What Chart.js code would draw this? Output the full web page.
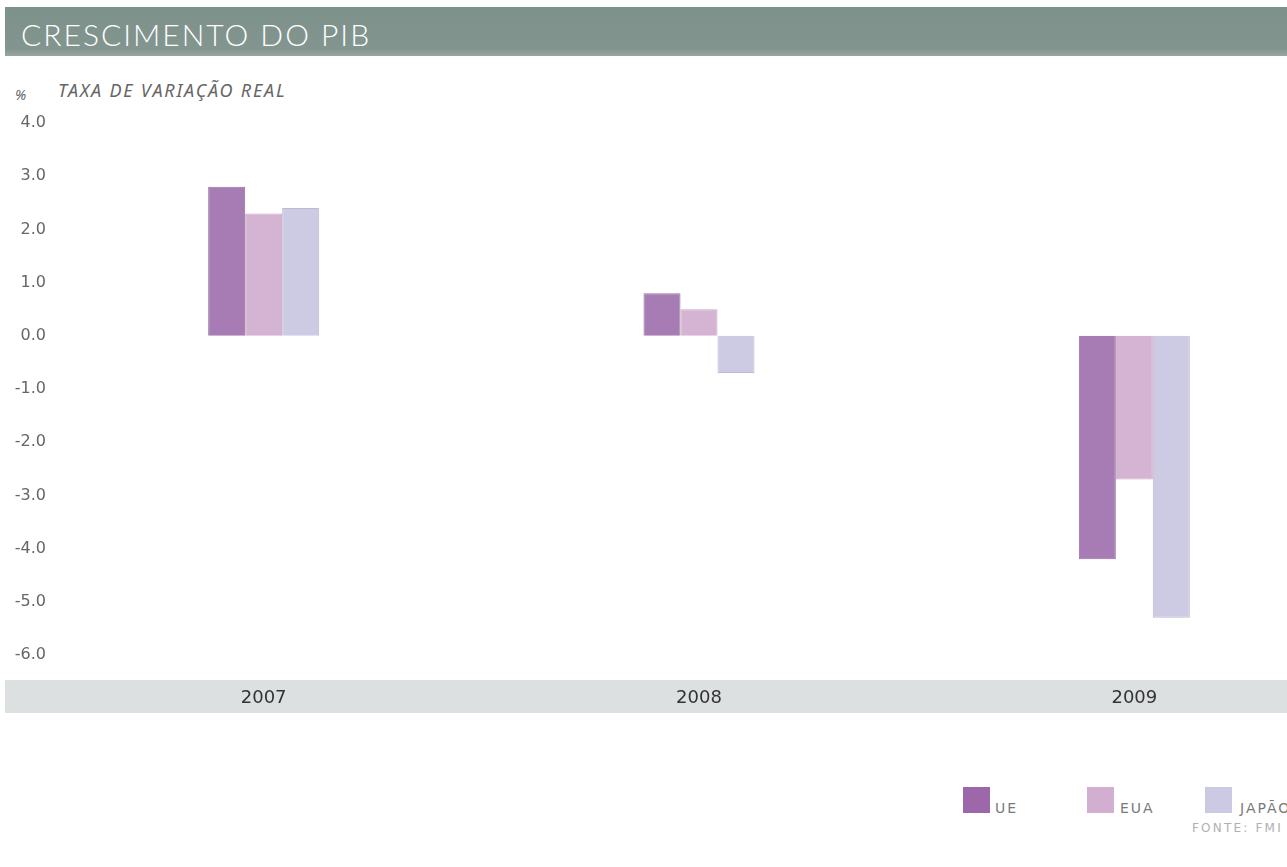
<!DOCTYPE html>
<html lang="pt">
<head>
<meta charset="utf-8">
<title>Crescimento do PIB</title>
<script src="https://cdn.jsdelivr.net/npm/chart.js@4.4.1/dist/chart.umd.min.js"></script>
<style>
  html, body { margin: 0; padding: 0; background: #fff; overflow: hidden; }
  #page { position: relative; width: 1360px; height: 867px; }
  .titlebar {
    position: absolute; left: 5px; top: 7px; width: 1355px; height: 49px;
    background: linear-gradient(#7d928b, #82958e 85%, #97a7a1);
  }
  .titlebar h1 {
    margin: 0; position: absolute; left: 16px; top: 9px;
    font: 300 30px Lato, "Open Sans", sans-serif; color: #fff; letter-spacing: 2px;
  }
  .sub { position: absolute; font-family: "Noto Sans", sans-serif; font-style: italic; color: #666; }
  #chartBox { position: absolute; left: 0; top: 100px; }
  .key { position: absolute; top: 787px; width: 27px; height: 26px; }
  .keytxt { position: absolute; top: 800px; font: 14px "DejaVu Sans", sans-serif; color: #7a7a7a; letter-spacing: 2px; }
  .fonte { position: absolute; left: 1192px; top: 821px; font: 12px "DejaVu Sans", sans-serif; color: #b0b0b0; letter-spacing: 2.2px; }
</style>
</head>
<body>
<div id="page">
  <div class="titlebar"><h1>CRESCIMENTO DO PIB</h1></div>
  <div class="sub" style="left:15px;top:85px;font-size:14px">%</div>
  <div class="sub" style="left:58px;top:78px;font-size:18px;letter-spacing:1.8px">TAXA DE VARIAÇÃO REAL</div>
  <div id="chartBox"><canvas id="pibChart" width="1360" height="630"></canvas></div>

  <div class="key" style="left:963px;background:#9d68aa"></div>
  <div class="keytxt" style="left:995px">UE</div>
  <div class="key" style="left:1087px;background:#d2aed0"></div>
  <div class="keytxt" style="left:1120px">EUA</div>
  <div class="key" style="left:1205px;background:#cccae2"></div>
  <div class="keytxt" style="left:1240px">JAPÃO</div>
  <div class="fonte">FONTE: FMI</div>
</div>

<script>
// anos e taxas de variação real do PIB (%)
const anos = ['2007', '2008', '2009'];
const ue = [2.8, 0.8, -4.2];
const eua = [2.3, 0.5, -2.7];
const japao = [2.4, -0.7, -5.3];
const escalaY = [-6, 4];

// faixa cinzenta por trás dos anos
const faixaAnos = {
  id: 'faixaAnos',
  beforeDraw(chart) {
    const { ctx, chartArea } = chart;
    ctx.save();
    ctx.fillStyle = '#dde0e1';
    ctx.fillRect(5, chartArea.bottom + 25, chart.width, 33);
    ctx.restore();
  }
};

const serie = (label, data, cor, borda) => ({
  label, data,
  backgroundColor: cor,
  borderColor: borda,
  borderWidth: 1,
  categoryPercentage: 0.255,
  barPercentage: 1.0
});

new Chart(document.getElementById('pibChart'), {
  type: 'bar',
  data: {
    labels: anos,
    datasets: [
      serie('UE', ue, '#a77bb3', '#95729e'),
      serie('EUA', eua, '#d5b3d2', '#c7a8c6'),
      serie('JAPÃO', japao, '#cdcbe3', '#bdbbd2')
    ]
  },
  options: {
    responsive: false,
    animation: false,
    devicePixelRatio: 1,
    layout: { padding: { top: 23, right: 8, bottom: 0, left: 0 } },
    plugins: { legend: { display: false }, tooltip: { enabled: false } },
    scales: {
      x: {
        grid: { display: false, drawTicks: false },
        border: { display: false },
        ticks: { padding: 33, color: '#333', font: { family: 'DejaVu Sans', size: 18 } },
        afterFit: s => { s.height = 75; }
      },
      y: {
        min: escalaY[0],
        max: escalaY[1],
        grid: { display: false, drawTicks: false },
        border: { display: false },
        ticks: {
          stepSize: 1,
          padding: 0,
          color: '#666',
          font: { family: 'DejaVu Sans', size: 16 },
          callback: v => v.toFixed(1)
        },
        afterFit: s => { s.width = 46; }
      }
    }
  },
  plugins: [faixaAnos]
});
</script>
</body>
</html>
